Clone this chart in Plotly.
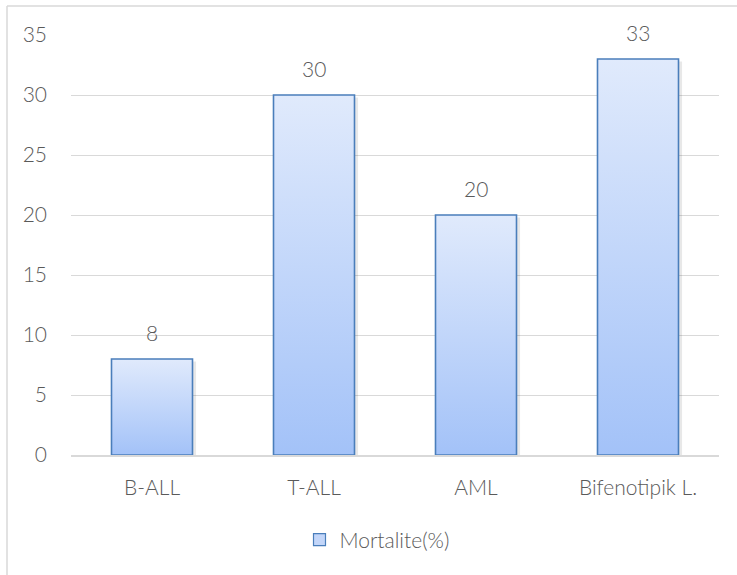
import plotly.graph_objects as go

categories = ["B-ALL", "T-ALL", "AML", "Bifenotipik L."]
values = [8, 30, 20, 33]
series_name = "Mortalite(%)"
y_ticks = [0, 5, 10, 15, 20, 25, 30, 35]

W, H = 737, 575
L, R, T, B = 71, 18, 35, 120
pw, ph = W - L - R, H - T - B
FONT = "Lato, Open Sans, sans-serif"
TXT = "#5a5a5a"

fig = go.Figure()
half = 0.25
for i, (c, v) in enumerate(zip(categories, values)):
    # soft shadow
    fig.add_trace(go.Scatter(
        x=[i - half + 0.012, i + half + 0.022, i + half + 0.022, i - half + 0.012, i - half + 0.012],
        y=[-0.3, -0.3, v - 0.2, v - 0.2, -0.3],
        mode="lines", fill="toself", line=dict(width=0),
        fillcolor="rgba(0,0,0,0.09)", showlegend=False, hoverinfo="skip",
    ))
    fig.add_trace(go.Scatter(
        x=[i - half, i + half, i + half, i - half, i - half],
        y=[0, 0, v, v, 0],
        mode="lines", fill="toself",
        line=dict(color="#4a7ebb", width=1.6),
        fillgradient=dict(type="vertical",
                          colorscale=[[0, "#a3c2f8"], [1, "#e0eafc"]]),
        showlegend=False, hoverinfo="skip",
    ))
    fig.add_annotation(x=i, y=v, text=str(v), showarrow=False,
                       yanchor="bottom", yshift=12,
                       font=dict(family=FONT, size=21, color=TXT, weight=300))

fig.add_trace(go.Bar(
    x=[None], y=[None], name=series_name,
    marker=dict(color="#c3d6f9", line=dict(color="#4a7ebb", width=1.2)),
))

def px2x(p):
    return (p - L) / pw

def px2y(p):
    return (H - B - p) / ph

fig.add_shape(type="line", xref="paper", yref="paper",
              x0=px2x(7), x1=px2x(760), y0=px2y(6), y1=px2y(6),
              line=dict(color="#d9d9d9", width=1.5))
fig.add_shape(type="line", xref="paper", yref="paper",
              x0=px2x(7), x1=px2x(7), y0=px2y(6), y1=px2y(600),
              line=dict(color="#d9d9d9", width=1.5))

fig.update_layout(
    width=W, height=H,
    margin=dict(l=L, r=R, t=T, b=B),
    paper_bgcolor="white", plot_bgcolor="white",
    font=dict(family=FONT, size=21, color=TXT, weight=300),
    xaxis=dict(range=[-0.5, 3.5], tickvals=list(range(len(categories))),
               ticktext=categories, showgrid=False, zeroline=False,
               showline=True, linecolor="#d9d9d9", linewidth=1.5,
               ticks="", ticklabelstandoff=13, fixedrange=True),
    yaxis=dict(range=[0, 35], tickvals=y_ticks, showgrid=True,
               gridcolor="#d9d9d9", gridwidth=1.2, zeroline=False,
               showline=False, ticks="", ticklabelstandoff=23),
    legend=dict(orientation="h", x=px2x(377), xanchor="center",
                y=px2y(540), yanchor="middle", itemwidth=30,
                font=dict(size=21, color=TXT)),
    showlegend=True,
)

fig.write_html("out.html")
